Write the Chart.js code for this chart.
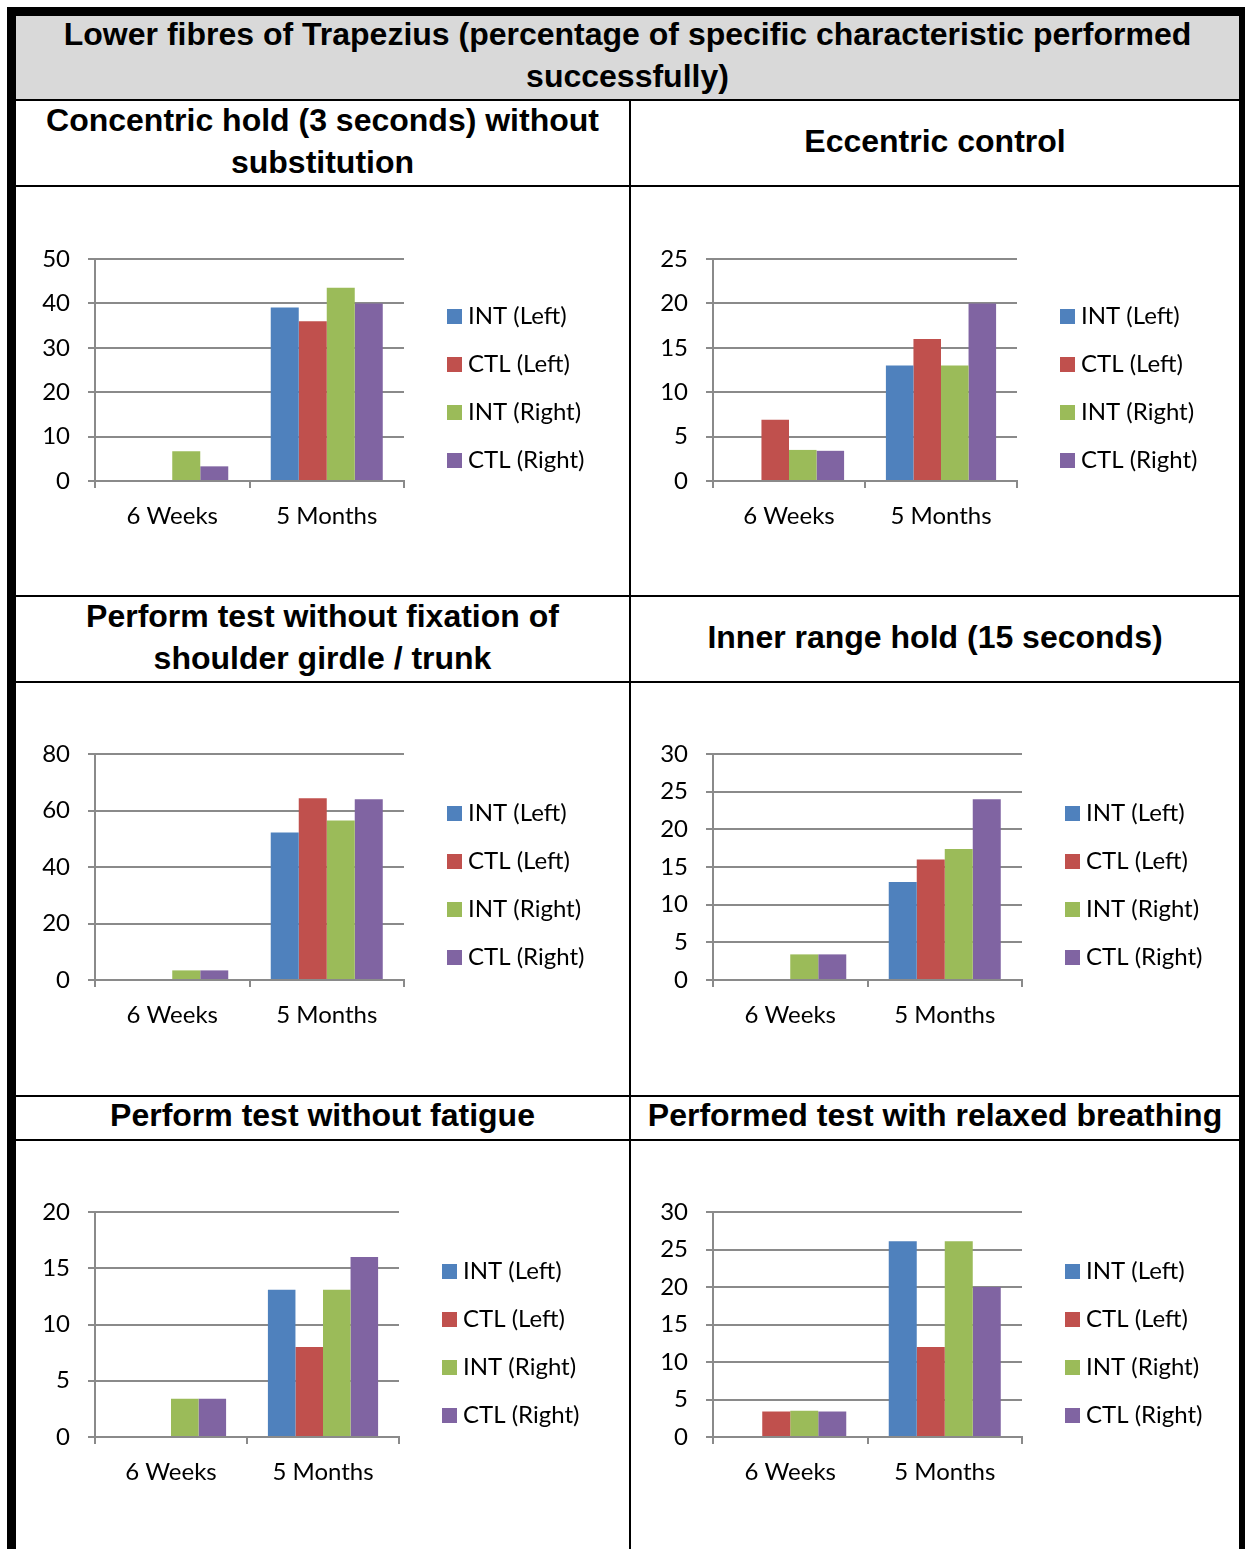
<!DOCTYPE html>
<html>
<head>
<meta charset="utf-8">
<title>Lower fibres of Trapezius</title>
<script src="https://cdn.jsdelivr.net/npm/chart.js@4.4.1/dist/chart.umd.min.js"></script>
<style>
  body { margin: 0; background: #fff; width: 1245px; height: 1549px; overflow: hidden; position: relative;
         font-family: "Liberation Sans", Arial, sans-serif; }
  .abs { position: absolute; }
  .frame { left: 7px; top: 7px; width: 1223px; height: 1600px; border: 9px solid #000; border-bottom: 0; }
  .title-bg { left: 16px; top: 16px; width: 1223px; height: 83px; background: #d9d9d9; }
  .hline { left: 16px; width: 1223px; height: 2px; background: #000; }
  .vline { left: 629px; top: 99px; width: 2px; height: 1460px; background: #000; }
  .head { font-weight: bold; font-size: 32px; line-height: 42px; text-align: center; white-space: nowrap; color: #000; }
  .lcol { left: 16px; width: 613px; }
  .rcol { left: 631px; width: 608px; }
  canvas { position: absolute; }
</style>
</head>
<body>
<div class="abs frame"></div>
<div class="abs title-bg"></div>
<div class="abs head" style="left:16px;width:1223px;top:13px;">Lower fibres of Trapezius (percentage of specific characteristic performed<br>successfully)</div>

<div class="abs hline" style="top:99px"></div>
<div class="abs hline" style="top:185px"></div>
<div class="abs hline" style="top:595px"></div>
<div class="abs hline" style="top:681px"></div>
<div class="abs hline" style="top:1095px"></div>
<div class="abs hline" style="top:1139px"></div>
<div class="abs vline"></div>

<div class="abs head lcol" style="top:99px">Concentric hold (3 seconds) without<br>substitution</div>
<div class="abs head rcol" style="top:120px">Eccentric control</div>
<div class="abs head lcol" style="top:595px">Perform test without fixation of<br>shoulder girdle / trunk</div>
<div class="abs head rcol" style="top:616px">Inner range hold (15 seconds)</div>
<div class="abs head lcol" style="top:1094px">Perform test without fatigue</div>
<div class="abs head rcol" style="top:1094px">Performed test with relaxed breathing</div>

<canvas id="c0" width="613" height="408" style="left:16px;top:187px"></canvas>
<canvas id="c1" width="607" height="408" style="left:632px;top:187px"></canvas>
<canvas id="c2" width="613" height="412" style="left:16px;top:683px"></canvas>
<canvas id="c3" width="607" height="412" style="left:632px;top:683px"></canvas>
<canvas id="c4" width="613" height="408" style="left:16px;top:1141px"></canvas>
<canvas id="c5" width="607" height="408" style="left:632px;top:1141px"></canvas>

<script>
// categories and series
const categories = ['6 Weeks', '5 Months'];
const seriesNames = ['INT (Left)', 'CTL (Left)', 'INT (Right)', 'CTL (Right)'];
const seriesColors = ['#4f81bd', '#c0504d', '#9bbb59', '#8064a2'];

// values per panel, one [6 Weeks, 5 Months] pair per series
const concentricHold = [[0, 39.1], [0, 36], [6.7, 43.5], [3.3, 40]];
const eccentricControl = [[0, 13], [6.9, 16], [3.5, 13], [3.4, 20]];
const withoutFixation = [[0, 52.2], [0, 64.3], [3.4, 56.5], [3.4, 64]];
const innerRangeHold = [[0, 13], [0, 16], [3.4, 17.4], [3.4, 24]];
const withoutFatigue = [[0, 13.1], [0, 8], [3.4, 13.1], [3.4, 16]];
const relaxedBreathing = [[0, 26.1], [3.4, 12], [3.5, 26.1], [3.4, 20]];

const panelData = [concentricHold, eccentricControl, withoutFixation, innerRangeHold, withoutFatigue, relaxedBreathing];
const yMax = [50, 25, 80, 30, 20, 30];
const yStep = [10, 5, 20, 5, 5, 5];

// where each plot area sits on the page
const panels = [
  { x: 16,  y: 187,  left: 95,  right: 404,  top: 259,  bottom: 481 },
  { x: 632, y: 187,  left: 713, right: 1017, top: 259,  bottom: 481 },
  { x: 16,  y: 683,  left: 95,  right: 404,  top: 754,  bottom: 980 },
  { x: 632, y: 683,  left: 713, right: 1022, top: 754,  bottom: 980 },
  { x: 16,  y: 1141, left: 95,  right: 399,  top: 1212, bottom: 1437 },
  { x: 632, y: 1141, left: 713, right: 1022, top: 1212, bottom: 1437 }
];

const Y_AXIS_W = 60, X_AXIS_H = 60, LEGEND_W = 120, LEGEND_PAD = 24, LEGEND_GAP = 43;
const LEGEND_DROP = 18.5, LEGEND_CLIP_W = 220;
const SWATCH = 15, SWATCH_SLOT = 3;   // swatch drawn wider than the slot chart.js reserves
const GRID = '#8a8a8a';
const tickFont = { family: 'Lato, "Open Sans", sans-serif', size: 24 };

// square colour swatches for the legend
const swatches = seriesColors.map(c => {
  const cv = document.createElement('canvas');
  cv.width = SWATCH;
  cv.height = SWATCH;
  const g = cv.getContext('2d');
  g.fillStyle = c;
  g.fillRect(0, 0, SWATCH, SWATCH);
  return cv;
});

// legend sits a little right of and below where chart.js would put it
const legendPlace = {
  id: 'legendPlace',
  afterLayout(chart) {
    const lg = chart.legend, ca = chart.chartArea;
    if (!lg) return;
    const h = lg.bottom - lg.top;
    const mid = (ca.top + ca.bottom) / 2 + LEGEND_DROP;
    const swatchOverhang = SWATCH / 2 - SWATCH_SLOT / 2;
    lg.left = ca.right + LEGEND_GAP - LEGEND_PAD + swatchOverhang;
    lg.width = LEGEND_CLIP_W;
    lg.right = lg.left + lg.width;
    lg.top = mid - h / 2;
    lg.bottom = mid + h / 2;
  }
};

function makeChart(i) {
  const canvas = document.getElementById('c' + i);
  const p = panels[i];
  const W = canvas.width, H = canvas.height;

  new Chart(canvas.getContext('2d'), {
    type: 'bar',
    data: {
      labels: categories,
      datasets: seriesNames.map((name, s) => ({
        label: name,
        data: panelData[i][s],
        backgroundColor: seriesColors[s],
        borderWidth: 0,
        categoryPercentage: 0.725,
        barPercentage: 1.0
      }))
    },
    options: {
      responsive: false,
      animation: false,
      devicePixelRatio: 1,
      layout: {
        padding: {
          left: p.left - p.x - Y_AXIS_W,
          top: p.top - p.y,
          bottom: H - (p.bottom - p.y) - X_AXIS_H,
          right: W - LEGEND_W - (p.right - p.x)
        }
      },
      plugins: {
        title: { display: false },
        tooltip: { enabled: false },
        legend: {
          position: 'right',
          maxWidth: LEGEND_W,
          labels: {
            usePointStyle: true,
            pointStyleWidth: SWATCH_SLOT,
            boxHeight: SWATCH,
            padding: LEGEND_PAD,
            color: '#000',
            font: tickFont,
            generateLabels: chart =>
              Chart.defaults.plugins.legend.labels.generateLabels(chart)
                .map((item, k) => Object.assign(item, { pointStyle: swatches[k] }))
          }
        }
      },
      scales: {
        x: {
          grid: { display: true, drawOnChartArea: false, drawTicks: true, tickLength: 7, color: GRID, lineWidth: 2 },
          border: { display: true, color: GRID, width: 2 },
          ticks: { color: '#000', font: tickFont, padding: 14, maxRotation: 0 },
          afterFit: s => { s.height = X_AXIS_H; }
        },
        y: {
          min: 0,
          max: yMax[i],
          ticks: { stepSize: yStep[i], color: '#000', font: tickFont, padding: 18 },
          grid: { color: GRID, lineWidth: 2, tickLength: 7, drawTicks: true },
          border: { display: true, color: GRID, width: 2 },
          afterFit: s => { s.width = Y_AXIS_W; }
        }
      }
    },
    plugins: [legendPlace]
  });
}

panels.forEach((p, i) => makeChart(i));
</script>
</body>
</html>
